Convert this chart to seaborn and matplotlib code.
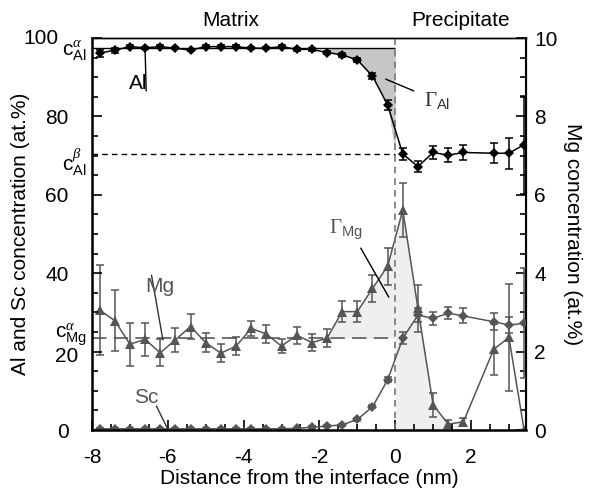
import numpy as np
import pandas as pd
import matplotlib
matplotlib.use("Agg")
import matplotlib.pyplot as plt
import matplotlib.transforms as mtransforms
import seaborn as sns
from matplotlib.ticker import MultipleLocator

# positions of the profile bins (nm), one gap between 1.8 and 2.6
x_pos = [-7.8, -7.4, -7.0, -6.6, -6.2, -5.8, -5.4, -5.0, -4.6, -4.2,
         -3.8, -3.4, -3.0, -2.6, -2.2, -1.8, -1.4, -1.0, -0.6, -0.2,
         0.2, 0.6, 1.0, 1.4, 1.8, 2.6, 3.0, 3.4]

al_conc = [96.1, 96.9, 97.8, 97.5, 97.8, 97.4, 96.9, 97.8, 97.8, 97.8,
           97.4, 97.4, 97.8, 97.1, 97.1, 96.3, 95.7, 94.4, 90.3, 82.9,
           70.4, 67.2, 70.8, 70.1, 70.8, 70.6, 70.6, 72.8]
al_err = [0.9, 0.6, 0.3, 0.3, 0.3, 0.3, 0.3, 0.3, 0.3, 0.3,
          0.3, 0.3, 0.3, 0.3, 0.3, 0.4, 0.5, 0.6, 0.8, 1.2,
          1.5, 1.45, 1.7, 1.75, 1.8, 2.5, 4.0, 12.5]

sc_conc = [0.3, 0.3, 0.3, 0.3, 0.3, 0.3, 0.3, 0.3, 0.3, 0.3,
           0.3, 0.3, 0.3, 0.4, 0.7, 1.0, 1.3, 2.7, 5.9, 12.8,
           23.4, 29.3, 28.5, 29.8, 29.1, 27.6, 26.8, 27.2]
sc_err = [0.2, 0.2, 0.2, 0.2, 0.2, 0.2, 0.2, 0.2, 0.2, 0.2,
          0.2, 0.2, 0.2, 0.2, 0.2, 0.2, 0.3, 0.3, 0.4, 0.6,
          1.5, 1.8, 1.7, 1.5, 1.9, 2.2, 2.0, 14.0]

mg_conc = [3.06, 2.79, 2.19, 2.31, 1.97, 2.30, 2.64, 2.23, 1.96, 2.14,
           2.59, 2.45, 2.14, 2.42, 2.23, 2.34, 3.02, 3.02, 3.61, 4.18,
           5.61, 3.10, 0.64, 0.15, 0.21, 2.06, 2.36, 0.0]
mg_err = [1.14, 0.77, 0.55, 0.43, 0.34, 0.30, 0.32, 0.24, 0.23, 0.23,
          0.19, 0.22, 0.17, 0.22, 0.21, 0.23, 0.26, 0.26, 0.34, 0.47,
          0.69, 0.60, 0.30, 0.10, 0.10, 0.65, 1.36, 0.0]

c_al_alpha = 97.4
c_al_beta = 70.5
c_mg_alpha = 2.34

sns.set_style("ticks")
plt.rcParams["font.family"] = ["Liberation Sans", "DejaVu Sans"]
plt.rcParams["mathtext.fontset"] = "custom"
plt.rcParams["mathtext.rm"] = "Liberation Sans"
plt.rcParams["mathtext.it"] = "Liberation Serif:italic"
plt.rcParams["mathtext.bf"] = "Liberation Serif"  # used for the serif Gamma
plt.rcParams["axes.unicode_minus"] = False
for key in ("text.color", "axes.labelcolor", "xtick.color", "ytick.color", "axes.edgecolor"):
    plt.rcParams[key] = "black"
FS = 15

df_al = pd.DataFrame({"x": x_pos, "c": al_conc, "err": al_err})
df_sc = pd.DataFrame({"x": x_pos, "c": sc_conc, "err": sc_err})
df_mg = pd.DataFrame({"x": x_pos, "c": mg_conc, "err": mg_err})

GREY = "#555555"

fig = plt.figure(figsize=(5.91, 4.93), dpi=100)
ax = fig.add_axes([92 / 591, 63 / 493, 434 / 591, 392 / 493])
ax2 = ax.twinx()
ax.set_zorder(ax2.get_zorder() + 1)
ax.patch.set_visible(False)

# Gibbs excess areas
gx = x_pos[15:20] + [0.0]
ax.fill_between(gx, al_conc[15:20] + [c_al_beta], c_al_alpha,
                color="#c6c6c6", lw=0, zorder=0)
mg_at0 = np.interp(0.0, x_pos, mg_conc)
ax2.fill_between(gx, mg_conc[15:20] + [mg_at0], c_mg_alpha,
                 color="#efefef", lw=0, zorder=0)
ax2.fill_between([0.0] + x_pos[20:24], [mg_at0] + mg_conc[20:24], 0,
                 color="#efefef", lw=0, zorder=0)

# reference levels
ax.hlines(c_al_alpha, -8, 0, color="black", lw=1.0)
ax.hlines(c_al_beta, -8, 0, color="black", lw=1.0, linestyles=(0, (4, 3)))
ax2.hlines(c_mg_alpha, -8, 0, color="#666666", lw=1.3, linestyles=(0, (8, 4)))
ax.axvline(0, color="#777777", lw=1.2, ls=(0, (4, 3)), zorder=1)

# Mg on the right axis
sns.lineplot(data=df_mg, x="x", y="c", ax=ax2, color=GREY, marker="^",
             markersize=7, markeredgewidth=0, lw=1.1, sort=False, errorbar=None)
ax2.errorbar(df_mg["x"], df_mg["c"], yerr=df_mg["err"], fmt="none",
             ecolor=GREY, elinewidth=1.1, capsize=3, capthick=1.1)

# Al and Sc on the left axis
sns.lineplot(data=df_sc, x="x", y="c", ax=ax, color=GREY, marker="D",
             markersize=5.5, markeredgewidth=0, lw=1.1, sort=False, errorbar=None)
ax.errorbar(df_sc["x"], df_sc["c"], yerr=df_sc["err"], fmt="none",
            ecolor=GREY, elinewidth=1.1, capsize=3, capthick=1.1)
sns.lineplot(data=df_al, x="x", y="c", ax=ax, color="black", marker="D",
             markersize=5.5, markeredgewidth=0, lw=1.1, sort=False, errorbar=None)
ax.errorbar(df_al["x"], df_al["c"], yerr=df_al["err"], fmt="none",
            ecolor="black", elinewidth=1.1, capsize=3, capthick=1.1)

# axes
ax.set_xlim(-8, 3.45)
ax.set_ylim(0, 100)
ax2.set_ylim(0, 10)
ax.xaxis.set_major_locator(MultipleLocator(2))
ax.xaxis.set_minor_locator(MultipleLocator(0.5))
ax.yaxis.set_major_locator(MultipleLocator(20))
ax.yaxis.set_minor_locator(MultipleLocator(5))
ax2.yaxis.set_major_locator(MultipleLocator(2))
ax2.yaxis.set_minor_locator(MultipleLocator(0.5))

for a in (ax, ax2):
    a.tick_params(which="major", length=7, width=1.2)
    a.tick_params(which="minor", length=4, width=1.2)
ax.tick_params(axis="x", which="both", direction="in", top=False, labelsize=FS, pad=13)
ax.tick_params(axis="y", which="both", direction="in", right=False, labelsize=FS, pad=17)
ax2.tick_params(axis="y", which="both", direction="in", labelsize=FS, pad=6)

for s in ("left", "bottom"):
    ax.spines[s].set_linewidth(1.8)
ax.spines["top"].set_linewidth(1.0)
ax2.spines["right"].set_linewidth(1.5)
ax2.spines["top"].set_linewidth(1.0)

ax.set_xlabel("Distance from the interface (nm)", fontsize=FS)
ax.xaxis.set_label_coords(0.5, -0.1)
ax.xaxis.label.set_va("top")
ax.set_ylabel("Al and Sc concentration (at.%)", fontsize=FS)
ax.yaxis.set_label_coords(-0.143, 0.5)
ax2.set_ylabel("Mg concentration (at.%)", fontsize=FS, rotation=-90, va="bottom")
ax2.yaxis.set_label_coords(1.085, 0.5)
ax2.set_xlabel("")

# nudge the 100 and 20 labels so the c labels fit beside them
fig.canvas.draw()
for lab in ax.get_yticklabels():
    if lab.get_text() == "100":
        lab.set_transform(lab.get_transform() + mtransforms.ScaledTranslation(-10 / 100, 2 / 100, fig.dpi_scale_trans))
    if lab.get_text() == "20":
        lab.set_transform(lab.get_transform() + mtransforms.ScaledTranslation(10 / 100, -3 / 100, fig.dpi_scale_trans))

ytr = mtransforms.blended_transform_factory(ax.transAxes, ax.transData)
ax.text(-0.012, c_al_alpha - 0.8, r"$\mathrm{c}_{\mathrm{Al}}^{\alpha}$", transform=ytr,
        ha="right", va="center", fontsize=FS)
ax.text(-0.012, c_al_beta - 2.2, r"$\mathrm{c}_{\mathrm{Al}}^{\beta}$", transform=ytr,
        ha="right", va="center", fontsize=FS)
ax.text(-0.012, c_mg_alpha * 10 + 0.8, r"$\mathrm{c}_{\mathrm{Mg}}^{\alpha}$", transform=ytr,
        ha="right", va="center", fontsize=FS)

xtr = ax.get_xaxis_transform()
ax.text(-4.33, 1.045, "Matrix", transform=xtr, ha="center", va="center", fontsize=FS)
ax.text(1.72, 1.045, "Precipitate", transform=xtr, ha="center", va="center", fontsize=FS)

# curve labels with leader lines
ax.text(-6.78, 88.5, "Al", ha="center", va="center", fontsize=FS)
ax.plot([-6.57, -6.6], [86.5, 97.5], color="black", lw=1)
ax.text(1.1, 84.0, r"$\mathbf{\Gamma}_{\mathrm{Al}}$", ha="center", va="center",
        fontsize=FS, color="#333333")
ax.plot([-0.25, 0.49], [89.5, 86.5], color="black", lw=1)
ax.text(-1.3, 51.0, r"$\mathbf{\Gamma}_{\mathrm{Mg}}$", ha="center", va="center",
        fontsize=FS, color=GREY)
ax.plot([-0.91, -0.17], [46.4, 33.9], color="black", lw=1)
ax.text(-6.21, 36.6, "Mg", ha="center", va="center", fontsize=FS, color=GREY)
ax.plot([-6.43, -6.13], [39.5, 23.0], color="#333333", lw=1)
ax.text(-6.57, 8.3, "Sc", ha="center", va="center", fontsize=FS, color=GREY)
ax.plot([-6.30, -5.99], [6.1, 0.0], color="#333333", lw=1)

fig.savefig("out.png", dpi=100)
